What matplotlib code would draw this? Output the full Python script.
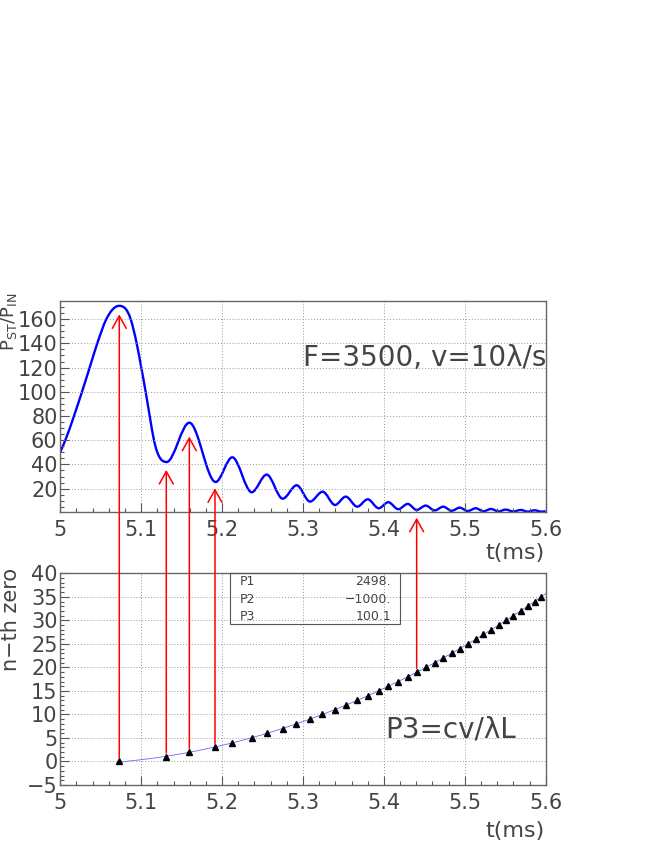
import numpy as np
import matplotlib
matplotlib.use("Agg")
import matplotlib.pyplot as plt
from matplotlib.path import Path
from matplotlib.patches import PathPatch, Rectangle, ConnectionPatch

# top panel: P_ST/P_IN curve (flanks of main peak + extrema)
curve_t = [5.000, 5.0062, 5.0169, 5.0268, 5.0363, 5.0457, 5.0569, 5.0726,
           5.0870, 5.0944, 5.1001, 5.1055, 5.1105, 5.1158, 5.1315, 5.1595,
           5.1920, 5.2126, 5.2366, 5.2551, 5.2749, 5.2922, 5.3087, 5.3243,
           5.3396, 5.3528, 5.3671, 5.3800, 5.3936, 5.4054, 5.4178, 5.4294,
           5.4405, 5.4517, 5.4628, 5.4734, 5.4838, 5.4937, 5.5036, 5.5135,
           5.5229, 5.5324, 5.5419, 5.5505, 5.5600, 5.5691, 5.5778, 5.5864,
           5.5946, 5.6000]
curve_v = [50.3, 60, 80, 100, 120, 140, 160, 171,
           160, 140, 120, 100, 80, 60, 42, 74.5,
           25.5, 45.9, 17.0, 31.6, 11.7, 22.8, 9.3, 17.5,
           6.5, 13.4, 5.1, 11.2, 3.8, 8.8, 3.0, 7.4,
           2.4, 6.0, 2.0, 5.1, 1.7, 4.3, 1.5, 3.8,
           1.3, 3.2, 1.2, 2.7, 1.1, 2.4, 1.0, 2.1,
           1.0, 1.3]

# bottom panel: position of the n-th zero
zero_n = list(range(36))
zero_t = [5.0729, 5.1310, 5.1595, 5.1912, 5.2126, 5.2370, 5.2551, 5.2756,
          5.2917, 5.3090, 5.3235, 5.3396, 5.3528, 5.3671, 5.3803, 5.3936,
          5.4054, 5.4178, 5.4294, 5.4405, 5.4517, 5.4628, 5.4734, 5.4838,
          5.4937, 5.5036, 5.5135, 5.5229, 5.5324, 5.5419, 5.5505, 5.5600,
          5.5691, 5.5778, 5.5864, 5.5946]

# red arrows: from n-th zero up to the curve
arrow_t = [5.0729, 5.1310, 5.1595, 5.1912, 5.4405]
arrow_n = [0, 1, 2, 3, 19]
arrow_tip = [164, 35.5, 63, 20.3, -4.0]

fit_names = ["P1", "P2", "P3"]
fit_values = ["2498.", "\u22121000.", "100.1"]

txt = "#444444"
W, H = 654, 846


def smooth_path(x, y):
    # smooth curve through the points as bezier segments, flat at the extrema
    x = np.asarray(x, float)
    y = np.asarray(y, float)
    h = np.diff(x)
    d = np.diff(y) / h
    m = np.zeros_like(x)
    m[0] = d[0]
    m[-1] = d[-1]
    for k in range(1, len(x) - 1):
        if d[k - 1] * d[k] > 0:
            m[k] = (h[k] * d[k - 1] + h[k - 1] * d[k]) / (h[k - 1] + h[k])
    verts = [(x[0], y[0])]
    codes = [Path.MOVETO]
    for i in range(len(h)):
        verts += [(x[i] + h[i] / 3, y[i] + m[i] * h[i] / 3),
                  (x[i + 1] - h[i] / 3, y[i + 1] - m[i + 1] * h[i] / 3),
                  (x[i + 1], y[i + 1])]
        codes += [Path.CURVE4] * 3
    return Path(verts, codes)


def style_axes(ax):
    ax.grid(True, which="major", color="#999999", linestyle=(0, (1, 2)), linewidth=0.7)
    ax.tick_params(which="both", direction="in", top=False, right=False,
                   colors="#555555", labelcolor=txt, labelsize=15)
    ax.tick_params(which="major", length=6.5, width=0.8)
    ax.tick_params(which="minor", length=3.2, width=0.8)
    ax.tick_params(axis="x", pad=6)
    ax.tick_params(axis="y", pad=2)
    for s in ax.spines.values():
        s.set_color("#666666")
        s.set_linewidth(1.0)
    ax.set_xlim(5.0, 5.6)
    ax.set_xticks(np.arange(5.0, 5.61, 0.1))
    ax.set_xticklabels(["5", "5.1", "5.2", "5.3", "5.4", "5.5", "5.6"])
    ax.set_xticks(np.arange(5.0, 5.6001, 0.02), minor=True)


fig = plt.figure(figsize=(W / 100, H / 100), dpi=100)
ax1 = fig.add_axes([60.3 / W, 1 - 512 / H, 485.4 / W, 211 / H])
ax2 = fig.add_axes([60.3 / W, 1 - 785 / H, 485.4 / W, 211.7 / H])

# top panel
style_axes(ax1)
ax1.set_ylim(0.7, 175)
ax1.set_yticks(np.arange(20, 161, 20))
ax1.set_yticks(np.arange(5, 175, 5), minor=True)
ax1.add_patch(PathPatch(smooth_path(curve_t, curve_v), facecolor="none",
                        edgecolor="#0000ff", linewidth=1.7))
ax1.text((303 - 60.3) / 485.4, (512 - 358) / 211, "F=3500, v=10\u03bb/s",
         transform=ax1.transAxes, fontsize=20, color=txt, ha="left", va="center")

# bottom panel
style_axes(ax2)
ax2.set_ylim(-5, 40)
ax2.set_yticks(np.arange(-5, 41, 5))
ax2.set_yticklabels([str(v).replace("-", "\u2212") for v in range(-5, 41, 5)])
ax2.set_yticks(np.arange(-5, 41, 1), minor=True)
coef = np.polyfit(zero_t, zero_n, 2)
tt = np.linspace(zero_t[0], 5.6, 200)
ax2.plot(tt, np.polyval(coef, tt), color="#6666ff", linewidth=0.6, zorder=3)
ax2.plot(zero_t, zero_n, linestyle="none", marker="^", color="black",
         markersize=4.5, zorder=4)
ax2.text((385 - 60.3) / 485.4, (785 - 730) / 211.7, "P3=cv/\u03bbL",
         transform=ax2.transAxes, fontsize=20, color=txt, ha="left", va="center")

# fit box
bx0, bx1 = (230 - 60.3) / 485.4, (400 - 60.3) / 485.4
by0 = (785 - 624) / 211.7
ax2.add_patch(Rectangle((bx0, by0), bx1 - bx0, 1 - by0, transform=ax2.transAxes,
                        facecolor="none", edgecolor="#555555", linewidth=0.8,
                        clip_on=False, zorder=5))
for i, (nm, val) in enumerate(zip(fit_names, fit_values)):
    yy = (785 - (581.7 + 17.5 * i)) / 211.7
    ax2.text((240 - 60.3) / 485.4, yy, nm, transform=ax2.transAxes,
             fontsize=9, color=txt, ha="left", va="center")
    ax2.text((391 - 60.3) / 485.4, yy, val, transform=ax2.transAxes,
             fontsize=9, color=txt, ha="right", va="center")

# axis titles
fig.text(9 / W, 1 - 293 / H, r"$\mathregular{P_{ST}/P_{IN}}$", rotation=90,
         ha="center", va="top", fontsize=13, color=txt)
fig.text(11 / W, 1 - 568 / H, "n\u2212th zero", rotation=90,
         ha="center", va="top", fontsize=15, color=txt)
fig.text(545 / W, 1 - 553 / H, "t(ms)", ha="right", va="center", fontsize=16, color=txt)
fig.text(545 / W, 1 - 831 / H, "t(ms)", ha="right", va="center", fontsize=16, color=txt)

# arrows from the zeros to the curve
for t, n, tip in zip(arrow_t, arrow_n, arrow_tip):
    con = ConnectionPatch(xyA=(t, n + 0.8), coordsA=ax2.transData,
                          xyB=(t, tip), coordsB=ax1.transData,
                          arrowstyle="->,head_length=0.9,head_width=0.5",
                          mutation_scale=10, shrinkA=0, shrinkB=0,
                          color="#ff0000", linewidth=1.1, zorder=10)
    fig.add_artist(con)

fig.savefig("out.png", dpi=100)
